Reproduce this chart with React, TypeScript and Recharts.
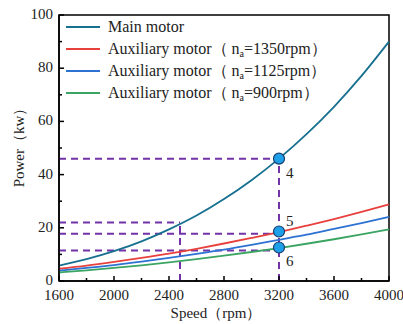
import { ComposedChart, Line, XAxis, YAxis, ReferenceLine, ReferenceArea, Scatter, LabelList } from "recharts";

const speeds = [1600, 1800, 2000, 2200, 2400, 2600, 2800, 3000, 3200, 3400, 3600, 3800, 4000];
const mainMotor = [5.8, 8.2, 11.2, 14.9, 19.4, 24.6, 30.8, 37.9, 46.0, 55.2, 65.5, 77.1, 90.0];
const aux1350 = [4.6, 5.8, 7.2, 8.7, 10.3, 12.1, 14.1, 16.2, 18.4, 20.8, 23.3, 26.0, 28.8];
const aux1125 = [3.9, 4.9, 6.0, 7.3, 8.7, 10.2, 11.8, 13.6, 15.5, 17.4, 19.6, 21.8, 24.1];
const aux900 = [3.2, 4.0, 4.9, 5.9, 7.0, 8.2, 9.5, 10.9, 12.4, 14.0, 15.7, 17.5, 19.4];

const xTicks = [1600, 1800, 2000, 2200, 2400, 2600, 2800, 3000, 3200, 3400, 3600, 3800, 4000];
const yTicks = [0, 10, 20, 30, 40, 50, 60, 70, 80, 90, 100];

const markerPoints = [
  { speed: 3200, power: 46, tag: "4" },
  { speed: 3200, power: 18.6, tag: "5" },
  { speed: 3200, power: 12.6, tag: "6" },
];

// guide lines: [x1, y1, x2, y2]
const guides = [
  [1600, 46, 3200, 46],
  [3200, 0, 3200, 46],
  [1600, 22, 2480, 22],
  [2480, 0, 2480, 22],
  [1600, 17.8, 3200, 17.8],
  [1600, 11.5, 3200, 11.5],
];

const series = [
  { key: "main", name: "Main motor", color: "#17708F", values: mainMotor },
  { key: "a1350", name: "1350", color: "#E8413D", values: aux1350 },
  { key: "a1125", name: "1125", color: "#2C72D3", values: aux1125 },
  { key: "a900", name: "900", color: "#3AA562", values: aux900 },
];

const data = speeds.map((s, i) => ({
  speed: s,
  main: mainMotor[i],
  a1350: aux1350[i],
  a1125: aux1125[i],
  a900: aux900[i],
}));

const FONT = "'Liberation Serif', 'Times New Roman', serif";
const PURPLE = "#7232A8";

function XTick(props: any) {
  const { x, y, payload } = props;
  const major = (payload.value - 1600) % 400 === 0;
  return (
    <g>
      <line x1={x} x2={x} y1={y} y2={y - (major ? 5 : 3)} stroke="#000" strokeWidth={1.5} />
      {major && (
        <text x={x} y={y + 19} textAnchor="middle" fontSize={15} fontFamily={FONT} fill="#222">
          {payload.value}
        </text>
      )}
    </g>
  );
}

function YTick(props: any) {
  const { x, y, payload } = props;
  const major = payload.value % 20 === 0;
  return (
    <g>
      <line x1={x} x2={x + (major ? 5 : 3)} y1={y} y2={y} stroke="#000" strokeWidth={1.5} />
      {major && (
        <text x={x - 6} y={y + 4} textAnchor="end" fontSize={15} fontFamily={FONT} fill="#222">
          {payload.value}
        </text>
      )}
    </g>
  );
}

function LegendBox() {
  return (
    <div
      style={{
        position: "absolute",
        left: 66,
        top: 16,
        fontFamily: FONT,
        fontSize: 16,
        color: "#222",
        lineHeight: "22px",
        pointerEvents: "none",
      }}
    >
      {series.map((s) => (
        <div key={s.key} style={{ display: "flex", alignItems: "center", whiteSpace: "nowrap", height: 22 }}>
          <span style={{ display: "inline-block", width: 34, height: 2, background: s.color, marginRight: 8 }} />
          {s.key === "main" ? (
            <span>{s.name}</span>
          ) : (
            <span>
              Auxiliary motor（ n<sub style={{ fontSize: 10, verticalAlign: "-3px", lineHeight: 0 }}>a</sub>={s.name}rpm）
            </span>
          )}
        </div>
      ))}
    </div>
  );
}

export default function App() {
  return (
    <div style={{ position: "fixed", left: 0, top: 0, width: 403, height: 324, background: "#fff" }}>
      <ComposedChart width={403} height={324} data={data} margin={{ top: 15, right: 14, left: 0, bottom: 0 }}>
        <XAxis
          dataKey="speed"
          type="number"
          domain={[1600, 4000]}
          ticks={xTicks}
          interval={0}
          tickSize={0}
          tickMargin={0}
          tick={<XTick />}
          height={43}
          axisLine={{ stroke: "#000", strokeWidth: 1.5 }}
          label={{ value: "Speed（rpm）", position: "insideBottom", offset: 6, dx: -8, fontSize: 15, fontFamily: FONT, fill: "#222" }}
        />
        <YAxis
          type="number"
          domain={[0, 100]}
          ticks={yTicks}
          interval={0}
          tickSize={0}
          tickMargin={0}
          tick={<YTick />}
          width={59}
          axisLine={{ stroke: "#000", strokeWidth: 1.5 }}
          label={{ value: "Power（kw）", angle: -90, position: "center", dx: -11, dy: -4, fontSize: 15, fontFamily: FONT, fill: "#222" }}
        />
        <ReferenceArea x1={1600} x2={4000} y1={0} y2={100} fill="none" stroke="#000" strokeWidth={1.5} />
        {guides.map((g, i) => (
          <ReferenceLine
            key={i}
            segment={[{ x: g[0], y: g[1] }, { x: g[2], y: g[3] }]}
            stroke={PURPLE}
            strokeWidth={2}
            strokeDasharray="7 5"
          />
        ))}
        {series.map((s) => (
          <Line
            key={s.key}
            dataKey={s.key}
            type="monotone"
            stroke={s.color}
            strokeWidth={1.8}
            dot={false}
            isAnimationActive={false}
          />
        ))}
        <Scatter
          data={markerPoints}
          dataKey="power"
          isAnimationActive={false}
          shape={(p: any) => <circle cx={p.cx} cy={p.cy} r={5.5} fill="#1EA0E8" stroke="#1B3F6E" strokeWidth={1.2} />}
        >
          <LabelList
            dataKey="tag"
            content={(p: any) => {
              const above = p.value === "5";
              return (
                <text
                  x={p.x + p.width / 2 + 7}
                  y={p.y + p.height / 2 + (above ? -6 : 19)}
                  fontSize={15}
                  fontFamily={FONT}
                  fill="#222"
                >
                  {p.value}
                </text>
              );
            }}
          />
        </Scatter>
      </ComposedChart>
      <LegendBox />
    </div>
  );
}
